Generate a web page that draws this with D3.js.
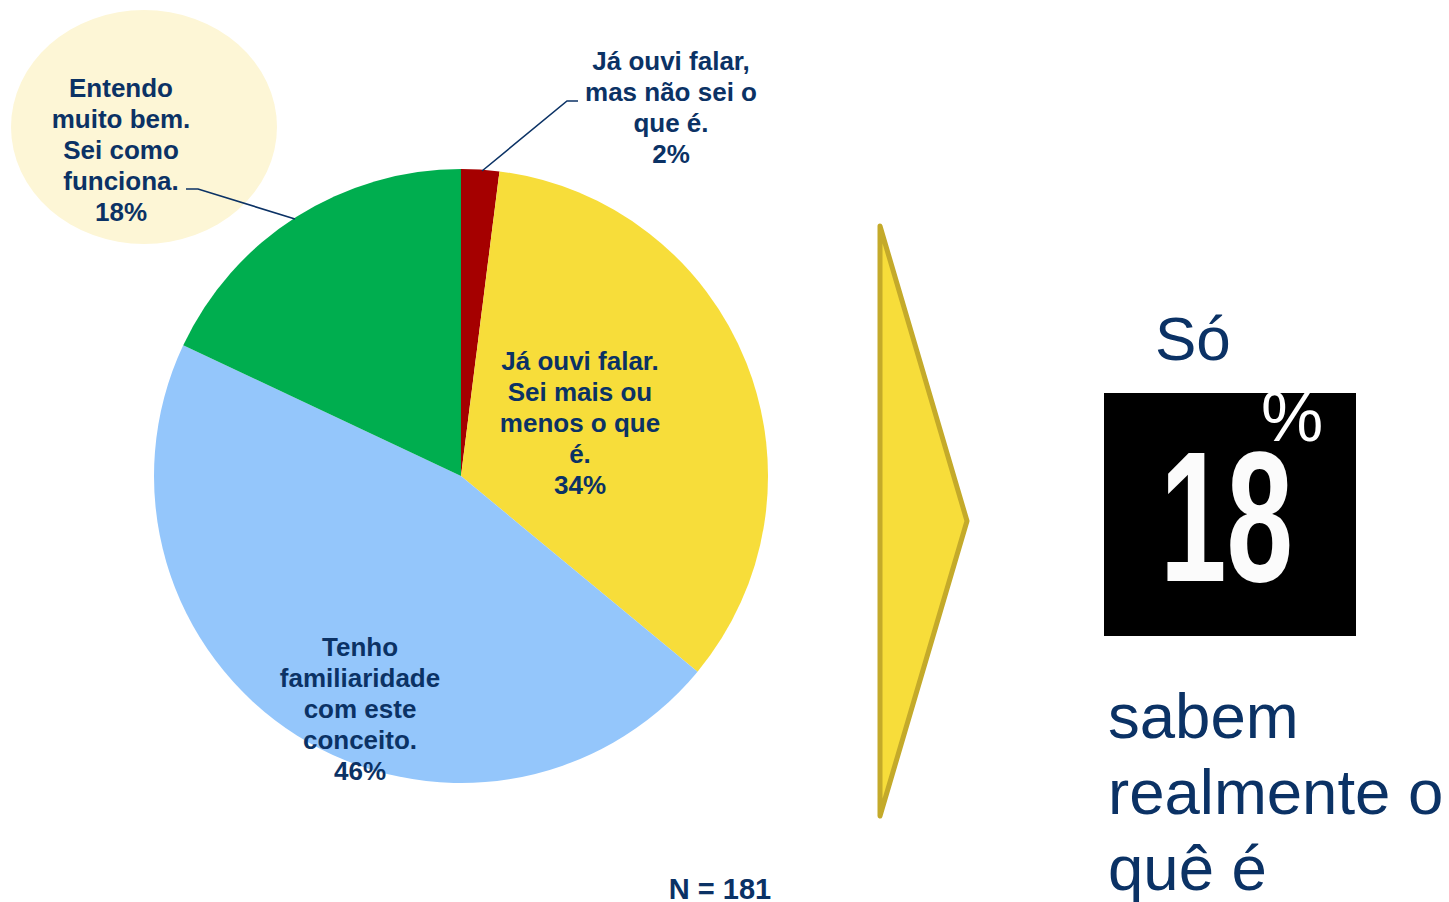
<!DOCTYPE html>
<html><head><meta charset="utf-8">
<script src="https://cdn.jsdelivr.net/npm/d3@7"></script>
<style>html,body{margin:0;padding:0;background:#fff;overflow:hidden}</style>
</head><body>
<svg id="c" width="1449" height="902"></svg>
<script>
// ---- data ----
const categories = [
  "Já ouvi falar, mas não sei o que é.",
  "Já ouvi falar. Sei mais ou menos o que é.",
  "Tenho familiaridade com este conceito.",
  "Entendo muito bem. Sei como funciona."
];
const labelLines = [
  ["Já ouvi falar,", "mas não sei o", "que é."],
  ["Já ouvi falar.", "Sei mais ou", "menos o que", "é."],
  ["Tenho", "familiaridade", "com este", "conceito."],
  ["Entendo", "muito bem.", "Sei como", "funciona."]
];
const values = [2, 34, 46, 18];
const sampleNote = "N = 181";
const highlightValue = 18;
const sideText = ["sabem", "realmente o", "quê é"];

// ---- layout / style ----
const colors = ["#A50000", "#F7DD3A", "#94C6FB", "#00AE4F"];
const textColor = "#0B3265";
const cx = 461, cy = 476, R = 307;
const labelPos = [ {x:671, y:70}, {x:580, y:370}, {x:360, y:656}, {x:121, y:97} ];
const lineH = 31;

const svg = d3.select("#c");

// ellipse behind green label
svg.append("ellipse").attr("cx",144).attr("cy",127).attr("rx",133).attr("ry",117)
  .attr("fill","#FDF6D6");

const pie = d3.pie().sort(null).value(d=>d);
const arc = d3.arc().innerRadius(0).outerRadius(R);
const arcs = pie(values);
const g = svg.append("g").attr("transform",`translate(${cx},${cy})`);
g.selectAll("path").data(arcs).join("path")
  .attr("d", arc).attr("fill",(d,i)=>colors[i]);

// leader lines
const leader = d3.line();
svg.append("path").attr("d", leader([[578,101],[567,101],[482,171]]))
  .attr("fill","none").attr("stroke",textColor).attr("stroke-width",1.6);
svg.append("path").attr("d", leader([[186,189],[198,189],[295,219]]))
  .attr("fill","none").attr("stroke",textColor).attr("stroke-width",1.6);

// labels
arcs.forEach((a,i)=>{
  const lines = labelLines[i].concat([d3.format(".0f")(a.data)+"%"]);
  const t = svg.append("text").attr("text-anchor","middle")
    .attr("font-family","'Liberation Sans', Arial, sans-serif")
    .attr("font-weight","bold").attr("font-size",26).attr("fill",textColor);
  lines.forEach((l,j)=>{
    t.append("tspan").attr("x",labelPos[i].x).attr("y",labelPos[i].y + j*lineH).text(l);
  });
});

// N note
svg.append("text").attr("x",720).attr("y",899).attr("text-anchor","middle")
  .attr("font-family","'Liberation Sans', Arial, sans-serif").attr("font-weight","bold")
  .attr("font-size",29).attr("fill",textColor).text(sampleNote);

// arrow
svg.append("path").attr("d", d3.line()([[880,226],[967,521],[880,816]]) + "Z")
  .attr("fill","#F7DD3A").attr("stroke","#C4AA2A").attr("stroke-width",5)
  .attr("stroke-linejoin","round");

// "Só"
svg.append("text").attr("x",1155).attr("y",360)
  .attr("font-family","'Liberation Sans', Arial, sans-serif")
  .attr("font-size",62).attr("fill",textColor).text("Só");

// black box with 18%
const clip = svg.append("clipPath").attr("id","bx");
clip.append("rect").attr("x",1104).attr("y",393).attr("width",252).attr("height",243);
svg.append("rect").attr("x",1104).attr("y",393).attr("width",252).attr("height",243)
  .attr("fill","#000");
const bg = svg.append("g").attr("clip-path","url(#bx)");
bg.append("text").attr("x",1160).attr("y",581)
  .attr("font-family","'Liberation Sans', Arial, sans-serif").attr("font-weight","bold")
  .attr("font-size",186).attr("fill","#fbfbfb")
  .attr("textLength",133).attr("lengthAdjust","spacingAndGlyphs").text(String(highlightValue));
bg.append("text").attr("x",1261).attr("y",441)
  .attr("font-family","'Liberation Sans', Arial, sans-serif")
  .attr("font-size",70).attr("fill","#fff").text("%");

// side text
sideText.forEach((s,i)=>{
  svg.append("text").attr("x",1108).attr("y",738 + i*76)
    .attr("font-family","'Liberation Sans', Arial, sans-serif")
    .attr("font-size",63.5).attr("fill",textColor).text(s);
});
</script>
</body></html>
